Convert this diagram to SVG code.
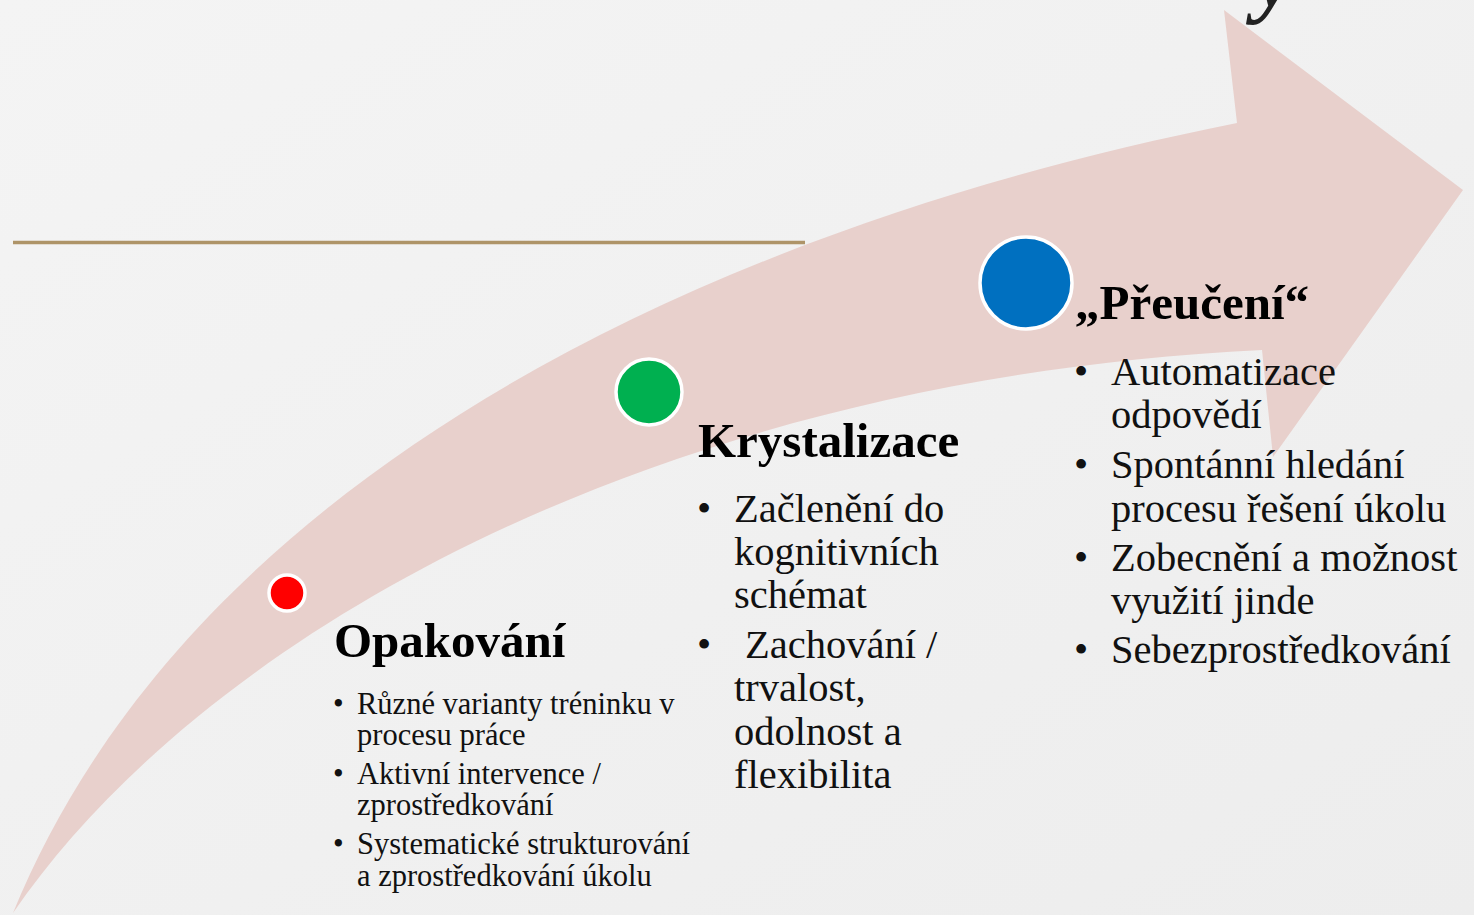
<svg xmlns="http://www.w3.org/2000/svg" width="1474" height="915" viewBox="0 0 1474 915">
  <defs>
    <linearGradient id="bg" x1="0" y1="0" x2="1" y2="1">
      <stop offset="0" stop-color="#f4f4f4"/>
      <stop offset="1" stop-color="#ededed"/>
    </linearGradient>
    <style>
      .title { font-family: "Liberation Serif", "DejaVu Serif", serif; font-weight: bold; font-size: 49px; fill: #000; }
      .b30 { font-family: "Liberation Serif", "DejaVu Serif", serif; font-size: 30.5px; fill: #111; }
      .b40 { font-family: "Liberation Serif", "DejaVu Serif", serif; font-size: 40.5px; fill: #111; }
      .dot { stroke: #ffffff; stroke-width: 3.5; }
    </style>
  </defs>
  <rect x="0" y="0" width="1474" height="915" fill="url(#bg)"/>
  <text x="1255" y="6" font-family="Liberation Serif, serif" font-style="italic" font-weight="bold" font-size="90" fill="#222">y</text>
  <line x1="13" y1="242.5" x2="805" y2="242.5" stroke="#ae9468" stroke-width="3.5"/>
  <g id="arrow">
    <path d="M1463,190 L1224,10 L1237,123 C700,230 190,480 13,913 C200,640 650,380 1262,350 L1273,457 Z" fill="#e8d0cc"/>
  </g>
  <g id="connectors"/>
  <g id="node-opakovani">
    <circle class="dot" cx="287" cy="593" r="18" fill="#ff0000"/>
    <text class="title" x="334" y="657">Opakování</text>
    <g class="b30">
      <text x="333" y="714">•</text>
      <text x="357" y="714">Různé varianty tréninku v</text>
      <text x="357" y="745">procesu práce</text>
      <text x="333" y="784">•</text>
      <text x="357" y="784">Aktivní intervence /</text>
      <text x="357" y="815">zprostředkování</text>
      <text x="333" y="854">•</text>
      <text x="357" y="854">Systematické strukturování</text>
      <text x="357" y="886">a zprostředkování úkolu</text>
    </g>
  </g>
  <g id="node-krystalizace">
    <circle class="dot" cx="649" cy="392" r="33" fill="#00b050"/>
    <text class="title" x="698" y="457">Krystalizace</text>
    <g class="b40">
      <text x="697" y="522">•</text>
      <text x="734" y="522">Začlenění do</text>
      <text x="734" y="565">kognitivních</text>
      <text x="734" y="608">schémat</text>
      <text x="697" y="658">•</text>
      <text x="745" y="658">Zachování /</text>
      <text x="734" y="701">trvalost,</text>
      <text x="734" y="745">odolnost a</text>
      <text x="734" y="788">flexibilita</text>
    </g>
  </g>
  <g id="node-preuceni">
    <circle class="dot" cx="1026" cy="283" r="46" fill="#0070c0"/>
    <text class="title" x="1075" y="319">„Přeučení“</text>
    <g class="b40">
      <text x="1074" y="385">•</text>
      <text x="1111" y="385">Automatizace</text>
      <text x="1111" y="428">odpovědí</text>
      <text x="1074" y="478">•</text>
      <text x="1111" y="478">Spontánní hledání</text>
      <text x="1111" y="522">procesu řešení úkolu</text>
      <text x="1074" y="571">•</text>
      <text x="1111" y="571">Zobecnění a možnost</text>
      <text x="1111" y="614">využití jinde</text>
      <text x="1074" y="663">•</text>
      <text x="1111" y="663">Sebezprostředkování</text>
    </g>
  </g>
</svg>
